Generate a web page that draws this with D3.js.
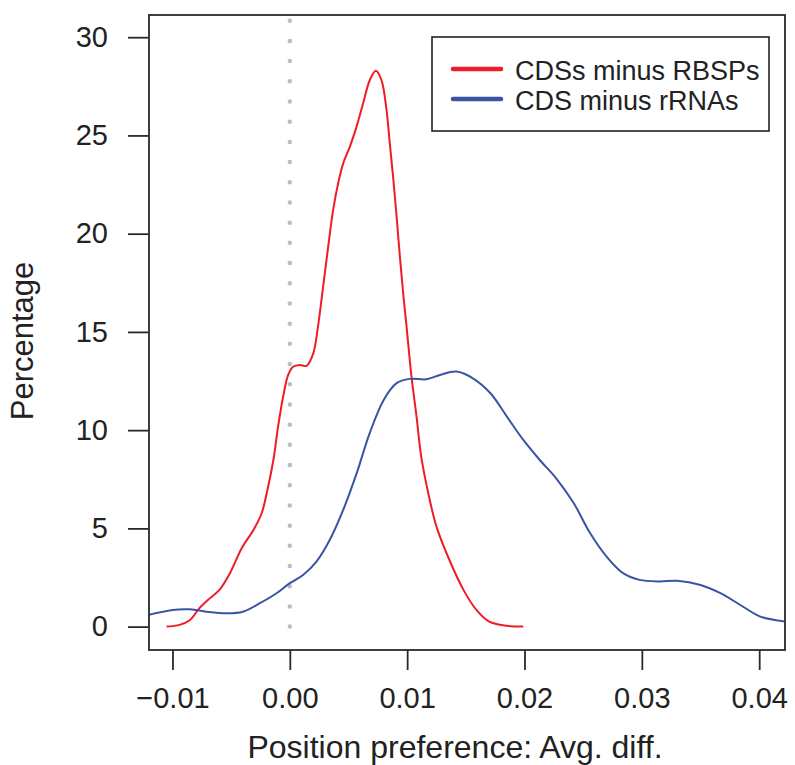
<!DOCTYPE html>
<html>
<head>
<meta charset="utf-8">
<script src="https://cdn.jsdelivr.net/npm/d3@7"></script>
<style>
  body { margin: 0; background: #fff; }
  svg text { font-family: "Liberation Sans", Arial, Helvetica, sans-serif; fill: #222; }
</style>
</head>
<body>
<svg width="795" height="765"></svg>
<script>
// density curves: [avg diff, percentage]
var redSeries = [
  [-0.0105, 0], [-0.0094, 0.09], [-0.0085, 0.34], [-0.0077, 0.94], [-0.0068, 1.45],
  [-0.0060, 1.87], [-0.0051, 2.72], [-0.0041, 3.99], [-0.0031, 4.92], [-0.0024, 5.77],
  [-0.00185, 7.12], [-0.0014, 8.48], [-0.0010, 10.18], [-0.00057, 11.7], [-0.00014, 12.81],
  [0.00028, 13.23], [0.00085, 13.32], [0.00142, 13.27], [0.0020, 13.91], [0.0024, 15.27],
  [0.00284, 17.3], [0.00327, 19.34], [0.00369, 21.2], [0.00412, 22.57], [0.00455, 23.58],
  [0.00512, 24.43], [0.00569, 25.45], [0.00625, 26.64], [0.00682, 27.82], [0.00733, 28.29],
  [0.00781, 27.82], [0.00824, 26.3], [0.00852, 24.6], [0.0088, 22.9], [0.0091, 20.87],
  [0.00938, 18.83], [0.00966, 16.97], [0.00995, 15.27], [0.01037, 12.72], [0.0108, 10.69],
  [0.0112, 8.65], [0.0118, 6.79], [0.0125, 5.09], [0.0136, 3.39], [0.0148, 1.87],
  [0.0159, 0.85], [0.0170, 0.25], [0.0185, 0.04], [0.0199, 0]
];
var blueSeries = [
  [-0.0121, 0.59], [-0.0100, 0.85], [-0.0085, 0.88], [-0.0071, 0.76], [-0.0054, 0.68],
  [-0.0040, 0.76], [-0.00256, 1.19], [-0.00113, 1.70], [0, 2.21], [0.00113, 2.63],
  [0.00227, 3.31], [0.0034, 4.41], [0.00455, 5.94], [0.0057, 7.81], [0.0068, 9.84],
  [0.0080, 11.54], [0.0091, 12.39], [0.0102, 12.61], [0.01165, 12.59], [0.0128, 12.81],
  [0.0142, 12.98], [0.0156, 12.64], [0.0171, 11.88], [0.0185, 10.69], [0.0199, 9.5],
  [0.0213, 8.48], [0.0227, 7.55], [0.0242, 6.28], [0.0256, 4.75], [0.0270, 3.56],
  [0.0284, 2.72], [0.0298, 2.38], [0.0315, 2.3], [0.0330, 2.33], [0.0350, 2.12],
  [0.0367, 1.70], [0.0384, 1.10], [0.0401, 0.51], [0.0423, 0.25]
];
var seriesNames = ['CDSs minus RBSPs', 'CDS minus rRNAs'];
var seriesColors = ['#ee1d25', '#3a54a4'];
var xTicks = [-0.01, 0, 0.01, 0.02, 0.03, 0.04];
var yTicks = [0, 5, 10, 15, 20, 25, 30];

var svg = d3.select('svg');
var plotLeft = 149, plotRight = 785, plotTop = 15, plotBottom = 650;

var x = d3.scaleLinear().domain([-0.012, 0.0422]).range([plotLeft, plotRight]);
var y = d3.scaleLinear().domain([-1.19, 31.13]).range([plotBottom, plotTop]);

svg.append('defs').append('clipPath').attr('id', 'plotclip')
  .append('rect')
  .attr('x', plotLeft).attr('y', plotTop)
  .attr('width', plotRight - plotLeft).attr('height', plotBottom - plotTop);

// dotted reference line at 0
var y0 = y(0), yDotTop = 20.7;
svg.append('line')
  .attr('x1', x(0)).attr('x2', x(0))
  .attr('y1', y0).attr('y2', yDotTop - 1)
  .attr('stroke', '#bdbdbd')
  .attr('stroke-width', 4.5)
  .attr('stroke-linecap', 'round')
  .attr('stroke-dasharray', '0 ' + ((y0 - yDotTop) / 30));

var line = d3.line()
  .x(function(d) { return x(d[0]); })
  .y(function(d) { return y(d[1]); })
  .curve(d3.curveCatmullRom.alpha(0.5));

var curves = svg.append('g').attr('clip-path', 'url(#plotclip)');
[redSeries, blueSeries].forEach(function(s, i) {
  curves.append('path')
    .datum(s)
    .attr('d', line)
    .attr('fill', 'none')
    .attr('stroke', seriesColors[i])
    .attr('stroke-width', 2);
});

// box
svg.append('rect')
  .attr('x', plotLeft).attr('y', plotTop)
  .attr('width', plotRight - plotLeft).attr('height', plotBottom - plotTop)
  .attr('fill', 'none')
  .attr('stroke', '#2a2a2a')
  .attr('stroke-width', 1.8);

// axes
var yAxis = svg.append('g')
  .attr('transform', 'translate(' + plotLeft + ',0)')
  .call(d3.axisLeft(y).tickValues(yTicks).tickSize(21).tickPadding(20).tickFormat(d3.format('d')));
var xAxis = svg.append('g')
  .attr('transform', 'translate(0,' + plotBottom + ')')
  .call(d3.axisBottom(x).tickValues(xTicks).tickSize(20).tickPadding(17)
    .tickFormat(function(d) { return d === 0 ? '0.00' : d3.format('.2f')(d).replace('-', '\u2013'); }));

[xAxis, yAxis].forEach(function(a) {
  a.select('.domain').remove();
  a.selectAll('.tick line').attr('stroke', '#2a2a2a').attr('stroke-width', 1.8);
  a.selectAll('.tick text').attr('font-size', 29).attr('fill', '#222');
});

// axis titles
svg.append('text')
  .attr('x', 455).attr('y', 758)
  .attr('text-anchor', 'middle')
  .attr('font-size', 32)
  .text('Position preference: Avg. diff.');

svg.append('text')
  .attr('transform', 'translate(33,341) rotate(-90)')
  .attr('text-anchor', 'middle')
  .attr('font-size', 31)
  .text('Percentage');

// legend
var legend = svg.append('g');
legend.append('rect')
  .attr('x', 432).attr('y', 37)
  .attr('width', 337).attr('height', 94)
  .attr('fill', '#fff')
  .attr('stroke', '#222')
  .attr('stroke-width', 1.6);

seriesNames.forEach(function(name, i) {
  var ly = 69 + i * 30;
  legend.append('line')
    .attr('x1', 453).attr('x2', 501)
    .attr('y1', ly).attr('y2', ly)
    .attr('stroke', seriesColors[i])
    .attr('stroke-width', 4.5)
    .attr('stroke-linecap', 'round');
  legend.append('text')
    .attr('x', 515).attr('y', ly + 10.5)
    .attr('font-size', 27)
    .text(name);
});
</script>
</body>
</html>
